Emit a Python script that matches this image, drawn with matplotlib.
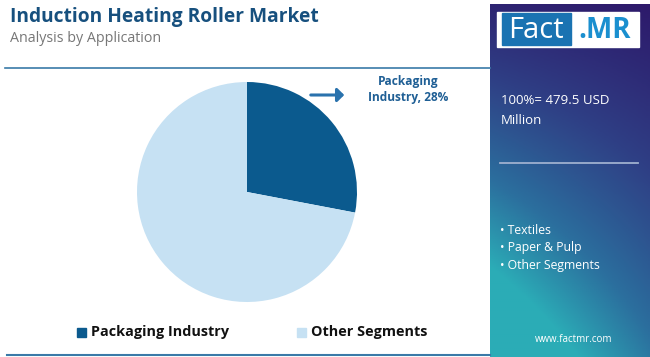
import matplotlib
matplotlib.use("Agg")
import matplotlib.pyplot as plt
import numpy as np
from matplotlib.patches import Rectangle
from matplotlib.colors import LinearSegmentedColormap

categories = ["Packaging Industry", "Other Segments"]
shares = [28, 72]
colors = ["#0b5a8e", "#c6e1f3"]
title = "Induction Heating Roller Market"
subtitle = "Analysis by Application"
total_text = "100%= 479.5 USD\nMillion"
other_segments = ["Textiles", "Paper & Pulp", "Other Segments"]

W, H = 650, 357
fig = plt.figure(figsize=(W / 100, H / 100), dpi=100)
fig.patch.set_facecolor("white")
FONT = "Open Sans"

def fx(x):
    return x / W

def fy(y):
    return 1 - y / H

# right gradient panel
pax = fig.add_axes([fx(490), 0, fx(160), fy(4)])
pax.set_axis_off()
nx, ny = 80, 180
xx, yy = np.meshgrid(np.linspace(0, 1, nx), np.linspace(0, 1, ny))
t = np.clip(0.75 * yy + 0.45 * (1 - xx) * yy + 0.1 * (1 - xx), 0, 1)
cmap = LinearSegmentedColormap.from_list("g", ["#2d1a6b", "#2f3f85", "#2b6f9e", "#2bb7bb"])
pax.imshow(t, cmap=cmap, aspect="auto", extent=[0, 1, 1, 0], vmin=0, vmax=1.05)
pax.set_xlim(0, 1)
pax.set_ylim(1, 0)

# title & subtitle
fig.text(fx(10), fy(17), title, fontsize=13.8, fontweight="bold", color="#17507e",
         family=FONT, va="center", ha="left")
fig.text(fx(10), fy(38.5), subtitle, fontsize=10.3, color="#777777", family=FONT,
         va="center", ha="left")

# separator lines
fig.add_artist(plt.Line2D([fx(5), fx(490)], [fy(68), fy(68)], color="#3a7aa8", lw=1.2))
fig.add_artist(plt.Line2D([fx(7), fx(490)], [fy(355), fy(355)], color="#3a7aa8", lw=1.5))

# pie
cx, cy, r = 247, 192, 110
ax = fig.add_axes([fx(cx - r), fy(cy + r), fx(2 * r), (2 * r) / H])
ax.pie(shares, colors=colors, startangle=90, counterclock=False,
       wedgeprops=dict(linewidth=0))
ax.set_xlim(-1, 1)
ax.set_ylim(-1, 1)
ax.set_aspect("equal")
ax.set_axis_off()

# annotation
fig.add_artist(matplotlib.patches.FancyArrowPatch(
    (fx(308), fy(95)), (fx(347), fy(95)), transform=fig.transFigure,
    arrowstyle="-|>,head_length=4,head_width=4", color="#2a72ad", lw=2.2))
fig.text(fx(408), fy(89.5), f"Packaging\nIndustry, {shares[0]}%", fontsize=8.6,
         fontweight="bold", color="#1f5f95", family=FONT, ha="center", va="center",
         linespacing=1.35)

# legend
lx = [77, 297]
for i, cat in enumerate(categories):
    fig.add_artist(Rectangle((fx(lx[i]), fy(337)), fx(9), 9 / H, color=colors[i],
                             transform=fig.transFigure))
    fig.text(fx(lx[i] + 14), fy(332), cat, fontsize=10.4, fontweight="bold",
             color="#111111", family=FONT, ha="left", va="center")

# logo
fig.add_artist(Rectangle((fx(497), fy(47)), fx(142), 35 / H, color="white",
                         transform=fig.transFigure))
fig.add_artist(Rectangle((fx(502), fy(45)), fx(69), 32 / H, color="#1a73b2",
                         transform=fig.transFigure))
fig.text(fx(536), fy(30), "Fact", fontsize=21, color="white", family=FONT,
         ha="center", va="center")
fig.text(fx(605), fy(30), ".MR", fontsize=20, fontweight="bold", color="#1a8fcf",
         family=FONT, ha="center", va="center")

# panel texts
fig.text(fx(501), fy(111), total_text, fontsize=9.5, color="white", family=FONT,
         ha="left", va="center", linespacing=1.7)
fig.add_artist(plt.Line2D([fx(500), fx(638)], [fy(163), fy(163)], color="#9fb0cf", lw=1.3))
for i, s in enumerate(other_segments):
    fig.text(fx(500), fy(230 + 17.5 * i), "• " + s, fontsize=8.8, color="white",
             family=FONT, ha="left", va="center")
fig.text(fx(574), fy(340), "www.factmr.com", fontsize=7, color="white",
         family=FONT, ha="center", va="center")

fig.savefig("out.png", dpi=100, facecolor="white")
